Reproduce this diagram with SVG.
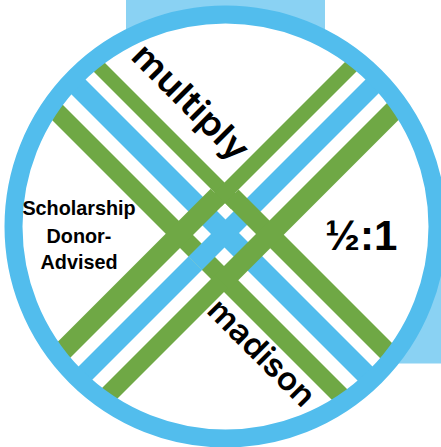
<svg xmlns="http://www.w3.org/2000/svg" width="441" height="447" viewBox="0 0 441 447">
<style>
.g{fill:#6fa845}
.b{fill:#52bded}
.l{fill:#8ad2f3}
.lbl{font-family:"Liberation Sans",Arial,sans-serif;font-weight:700;fill:#000}
.sm{font-size:19.8px;text-anchor:middle}
.rot{font-family:Inter,"Noto Sans",sans-serif;font-weight:600;fill:#000}
</style>
<defs><clipPath id="c"><circle cx="225.5" cy="226.5" r="212"/></clipPath></defs>
<rect id="bg-top" class="l" x="126" y="0" width="199" height="100"/>
<rect id="bg-right" class="l" x="325" y="250" width="116" height="113.5"/>
<circle id="disc" cx="225.5" cy="226.5" r="212" fill="#fff"/>
<g id="connectors" clip-path="url(#c)">
<polygon id="blue-nw-se" class="b" points="53,47 453,447 438.5,461.5 38.5,61.5"/>
<polygon id="green-nw-se-lower" class="g" points="29,71 429,471 416,484 16,84"/>
<polygon id="blue-ne-sw-lower" class="b" points="188.5,256.5 202,270 -14,486 -27.5,472.5"/>
<polygon id="blue-ne-sw-upper" class="b" points="188.5,256.5 202,270 436,36 422.5,22.5"/>
<polygon id="green-nw-thin" class="g" points="71,29 241,199 231,209 61,39"/>
<polygon id="green-se-thick" class="g" points="238.5,189.5 474.5,425.5 461,439 225,203"/>
<polygon id="green-ne-thin" class="g" points="403.5,3.5 414,14 221.5,206.5 211,196"/>
<polygon id="green-sw-thick" class="g" points="210.75,188.75 225,203 -36,464 -50.25,449.75"/>
<polygon id="green-ne-thick" class="g" points="445,45 459.25,59.25 226.25,292.25 212,278"/>
<polygon id="green-sw-lower" class="g" points="215,275 228,288 8,508 -5,495"/>
</g>
<circle id="ring" cx="225.5" cy="226.5" r="212" fill="none" stroke="#52bded" stroke-width="18"/>
<g id="label-multiply"><text class="rot" font-size="35" textLength="149" lengthAdjust="spacingAndGlyphs" transform="translate(129.5 58) rotate(45)">multiply</text></g>
<g id="label-madison"><text class="rot" font-size="32" textLength="137" lengthAdjust="spacingAndGlyphs" transform="translate(205.5 312) rotate(45)">madison</text></g>
<g id="label-scholarship">
<text class="lbl sm" x="79" y="215">Scholarship</text>
<text class="lbl sm" x="79" y="242.5">Donor-</text>
<text class="lbl sm" x="79" y="269">Advised</text>
</g>
<g id="label-ratio"><text class="lbl" font-size="42" x="325" y="250">½:1</text></g>
</svg>
